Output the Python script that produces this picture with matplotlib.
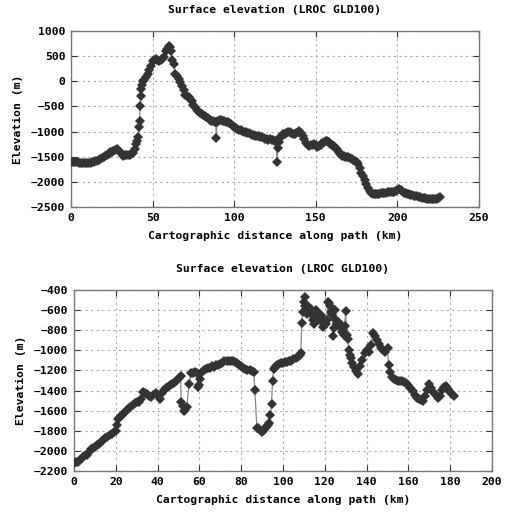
import numpy as np
import matplotlib
matplotlib.use("Agg")
import matplotlib.pyplot as plt

# top profile: (distance km, elevation m)
top_pts = [
    (0, -1600), (1, -1605), (2, -1610), (3, -1615), (4, -1612), (5, -1618), (6, -1625),
    (7, -1628), (8, -1630), (9, -1632), (10, -1630), (11, -1625), (12, -1620), (13, -1612),
    (14, -1605), (15, -1595), (16, -1580), (17, -1565), (18, -1550), (19, -1530),
    (20, -1510), (21, -1490), (22, -1465), (23, -1440), (24, -1415), (25, -1400),
    (26, -1380), (27, -1360), (28, -1340), (29, -1360), (30, -1410), (31, -1450),
    (32, -1480), (33, -1475), (34, -1470), (35, -1465), (36, -1460), (37, -1450),
    (38, -1420), (39, -1350), (40, -1250), (40.5, -1180), (41, -1100), (41.5, -900),
    (42, -780), (42.3, -500), (42.6, -300), (43, -150), (43.5, -80), (44, 0), (45, 30),
    (46, 80), (47, 150), (48, 220), (49, 300), (50, 400), (51, 430), (52, 450), (53, 430),
    (54, 410), (55, 430), (56, 450), (57, 480), (58, 600), (59, 650), (60, 700),
    (60.5, 680), (61, 600), (62, 420), (63, 350), (64, 150), (65, 100), (66, 50),
    (67, -20), (68, -100), (69, -180), (70, -270), (71, -290), (72, -320), (73, -360),
    (74, -400), (75, -480), (76, -520), (77, -580), (78, -600), (79, -630), (80, -650),
    (81, -680), (82, -700), (83, -720), (84, -740), (85, -760), (86, -780), (87, -790),
    (88, -800), (88.6, -800), (89, -1130), (89.4, -800), (90, -790), (91, -770),
    (92, -770), (93, -780), (94, -790), (95, -800), (96, -810), (97, -830), (98, -850),
    (99, -880), (100, -900), (101, -920), (102, -940), (103, -960), (104, -975),
    (105, -990), (106, -1000), (107, -1010), (108, -1020), (109, -1030), (110, -1040),
    (111, -1060), (112, -1070), (113, -1080), (114, -1085), (115, -1090), (116, -1100),
    (117, -1110), (118, -1120), (119, -1140), (120, -1150), (121, -1160), (122, -1150),
    (123, -1160), (124, -1170), (125, -1180), (125.8, -1200), (126.2, -1600),
    (126.8, -1320), (127.5, -1200), (128, -1100), (129, -1080), (130, -1050),
    (131, -1040), (132, -1020), (133, -1000), (134, -1010), (135, -1030), (136, -1050),
    (137, -1040), (138, -1030), (139, -1010), (140, -990), (141, -1020), (142, -1080),
    (143, -1150), (144, -1220), (145, -1270), (146, -1280), (147, -1270), (148, -1260),
    (149, -1255), (150, -1270), (151, -1300), (152, -1290), (153, -1260), (154, -1230),
    (155, -1210), (156, -1190), (157, -1180), (158, -1210), (159, -1240), (160, -1260),
    (161, -1290), (162, -1320), (163, -1350), (164, -1400), (165, -1450), (166, -1480),
    (167, -1490), (168, -1500), (169, -1500), (170, -1500), (171, -1520), (172, -1540),
    (173, -1560), (174, -1580), (175, -1600), (176, -1640), (177, -1730), (178, -1820),
    (179, -1890), (180, -1960), (181, -2050), (182, -2130), (183, -2190), (184, -2230),
    (185, -2240), (186, -2250), (187, -2245), (188, -2240), (189, -2235), (190, -2230),
    (191, -2225), (192, -2220), (193, -2215), (194, -2210), (195, -2205), (196, -2200),
    (197, -2200), (198, -2195), (199, -2190), (200, -2160), (201, -2140), (202, -2160),
    (203, -2190), (204, -2220), (205, -2230), (206, -2240), (207, -2250), (208, -2260),
    (209, -2270), (210, -2280), (211, -2285), (212, -2290), (213, -2300), (214, -2310),
    (215, -2320), (216, -2325), (217, -2330), (218, -2340), (219, -2345), (220, -2350),
    (221, -2345), (222, -2340), (223, -2350), (224, -2340), (225, -2330), (226, -2310),
]

# bottom profile: (distance km, elevation m)
bot_pts = [
    (0, -2120), (1, -2115), (2, -2110), (3, -2090), (4, -2070), (5, -2055), (6, -2040),
    (7, -2010), (8, -1980), (9, -1970), (10, -1960), (11, -1945), (12, -1930),
    (13, -1910), (14, -1890), (15, -1875), (16, -1860), (17, -1845), (18, -1830),
    (19, -1815), (20, -1800), (20.5, -1740), (21, -1680), (22, -1660), (23, -1640),
    (24, -1620), (25, -1600), (26, -1580), (27, -1560), (28, -1540), (29, -1520),
    (30, -1515), (31, -1510), (32, -1480), (33, -1410), (34, -1420), (35, -1430),
    (36, -1450), (37, -1460), (38, -1440), (39, -1420), (40, -1440), (41, -1480),
    (42, -1420), (43, -1390), (44, -1375), (45, -1360), (46, -1345), (47, -1330),
    (48, -1320), (49, -1300), (50, -1280), (51, -1260), (51.3, -1510), (52, -1550),
    (52.5, -1600), (53, -1590), (54, -1560), (55, -1330), (56, -1230), (57, -1225),
    (58, -1220), (59, -1230), (59.5, -1360), (60, -1340), (60.5, -1290), (61, -1230),
    (62, -1200), (63, -1190), (64, -1180), (65, -1175), (66, -1160), (67, -1170),
    (68, -1150), (69, -1145), (70, -1140), (71, -1125), (72, -1110), (73, -1110),
    (74, -1110), (75, -1105), (76, -1110), (77, -1115), (78, -1130), (79, -1145),
    (80, -1160), (81, -1175), (82, -1190), (83, -1195), (84, -1200), (85, -1210),
    (86, -1220), (86.5, -1390), (87.5, -1770), (88, -1775), (89, -1790), (90, -1810),
    (91, -1790), (92, -1760), (93, -1740), (93.5, -1720), (94, -1640), (94.5, -1530),
    (95, -1300), (95.5, -1190), (96, -1170), (97, -1150), (98, -1140), (99, -1130),
    (100, -1125), (101, -1120), (102, -1115), (103, -1110), (104, -1105), (105, -1090),
    (106, -1080), (107, -1070), (108, -1050), (108.5, -1030), (109, -730), (109.5, -620),
    (110, -520), (110.3, -470), (110.6, -560), (111, -600), (111.5, -640), (112, -580),
    (112.5, -570), (113, -620), (113.5, -600), (114, -650), (114.5, -700), (115, -740),
    (115.5, -660), (116, -600), (116.5, -680), (117, -640), (117.5, -700), (118, -650),
    (118.5, -720), (119, -770), (119.5, -700), (120, -720), (120.5, -740), (121, -700),
    (121.5, -520), (122, -530), (122.5, -560), (123, -620), (123.5, -650), (124, -860),
    (124.5, -780), (125, -600), (125.5, -700), (126, -740), (126.5, -720), (127, -760),
    (127.5, -740), (128, -820), (128.5, -790), (129, -850), (129.5, -760), (130, -610),
    (130.5, -850), (131, -890), (131.5, -1000), (132, -1050), (132.5, -1080),
    (133, -1130), (134, -1170), (135, -1210), (136, -1240), (137, -1160), (138, -1100),
    (139, -1030), (140, -1000), (141, -1020), (142, -950), (143, -830), (144, -860),
    (145, -900), (146, -940), (147, -980), (148, -1000), (149, -1020), (150, -980),
    (150.5, -1150), (151, -1220), (152, -1270), (153, -1290), (154, -1295), (155, -1300),
    (156, -1300), (157, -1300), (158, -1310), (159, -1320), (160, -1340), (161, -1370),
    (162, -1400), (163, -1440), (164, -1470), (165, -1480), (166, -1490), (167, -1500),
    (168, -1450), (169, -1390), (170, -1330), (171, -1370), (172, -1410), (173, -1440),
    (174, -1470), (175, -1450), (176, -1390), (177, -1360), (178, -1350), (179, -1380),
    (180, -1410), (181, -1430), (182, -1450),
]

title = "Surface elevation (LROC GLD100)"
xlab = "Cartographic distance along path (km)"
ylab = "Elevation (m)"

plt.rcParams['font.family'] = ['DejaVu Sans Mono']
plt.rcParams['font.weight'] = 'bold'
plt.rcParams['font.size'] = 8.2

fig = plt.figure(figsize=(5.05, 5.13), dpi=100)
ax1 = fig.add_axes([71/505, 1 - 207/513, 408/505, 176/513])
ax2 = fig.add_axes([74/505, 1 - 471/513, 418/505, 181/513])

def style(ax, pts, xlim, ylim, xt, yt):
    x, y = zip(*pts)
    ax.plot(x, y, '-', color='#888888', lw=0.9, zorder=2)
    ax.plot(x, y, 'D', color='#333333', ms=4.8, mew=0, zorder=3)
    ax.set_xlim(*xlim)
    ax.set_ylim(*ylim)
    ax.set_xticks(xt)
    ax.set_yticks(yt)
    ax.grid(True, color='#aaaaaa', linestyle=(0, (2, 3)), lw=0.8)
    ax.tick_params(direction='in', length=4, width=0.8, top=True, right=True,
                   color='#333333', labelsize=8.2, pad=4)
    for s in ax.spines.values():
        s.set_color('#777777')
        s.set_linewidth(1.0)
    ax.set_title(title, fontsize=8.2, fontweight='bold', pad=13)
    ax.set_xlabel(xlab, fontweight='bold', labelpad=6)
    ax.set_ylabel(ylab, fontweight='bold', labelpad=6)

style(ax1, top_pts, (0, 250), (-2500, 1000),
      np.arange(0, 251, 50), np.arange(-2500, 1001, 500))
style(ax2, bot_pts, (0, 200), (-2200, -400),
      np.arange(0, 201, 20), np.arange(-2200, -399, 200))

fig.savefig("out.png", dpi=100)
